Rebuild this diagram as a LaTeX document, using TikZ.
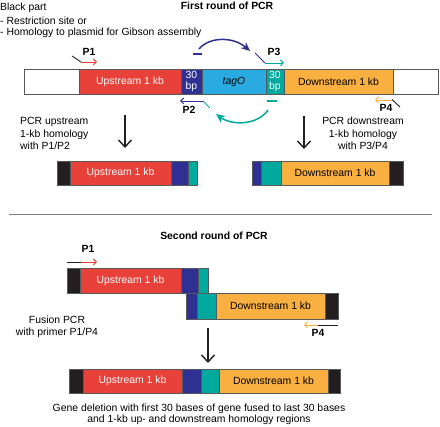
\documentclass[tikz,border=0pt]{standalone}
\usepackage{fontspec}
\setmainfont{Liberation Sans}
\usetikzlibrary{arrows.meta}
\definecolor{cred}{HTML}{E8413A}
\definecolor{cdblue}{HTML}{2E3192}
\definecolor{clblue}{HTML}{29ABE2}
\definecolor{cteal}{HTML}{00A99D}
\definecolor{corange}{HTML}{F9B040}
\definecolor{cblack}{HTML}{231F20}
\definecolor{cedge}{HTML}{58595B}
\begin{document}
\begin{tikzpicture}[x=1pt,y=-1pt,font=\fontsize{10.4}{12.5}\selectfont,
  seg/.style={draw=cedge,line width=0.8pt,rectangle,inner sep=0pt,outer sep=0pt,anchor=north west,minimum width=#1},
  h25/.style={minimum height=25pt},
  h24/.style={minimum height=24pt},
  h26/.style={minimum height=26pt},
  wtext/.style={text=white},
  lbl/.style={font=\fontsize{10.4}{12.5}\selectfont\bfseries,inner sep=0pt},
  txt/.style={inner sep=0pt,align=left},
  ctxt/.style={inner sep=0pt,align=center},
  primer/.style={line width=0.9pt,-{Straight Barb[length=3pt,width=6pt]}},
  tail/.style={line width=0.9pt,cblack},
  downarrow/.style={line width=1.4pt,cblack,-{Straight Barb[length=7pt,width=13pt]}},
  arcarrow/.style={line width=1.5pt,-{Stealth[length=9pt,width=8pt,inset=3pt]}},
  markline/.style={line width=1.5pt}]
\useasboundingbox (0,0) rectangle (440,427);

% header text
\node[txt,anchor=west] (hdr1) at (0,8) {Black part};
\node[txt,anchor=west] (hdr2) at (0,20.5) {- Restriction site or};
\node[txt,anchor=west] (hdr3) at (0,33) {- Homology to plasmid for Gibson assembly};
\node[lbl] (title1) at (227,6) {First round of PCR};

% top bar
\node[seg=55pt,h25,fill=white] (t0) at (24,69) {};
\node[seg=102pt,h25,fill=cred,wtext] (tup) at (79,69) {Upstream 1 kb};
\node[seg=21pt,h25,fill=cdblue,wtext,align=center,font=\fontsize{10.4}{11.5}\selectfont] (tbp1) at (181,69) {30\\bp};
\node[seg=64pt,h25,fill=clblue] (ttag) at (202,69) {\itshape tagO};
\node[seg=18pt,h25,fill=cteal,wtext,align=center,font=\fontsize{10.4}{11.5}\selectfont] (tbp2) at (266,69) {30\\bp};
\node[seg=109pt,h25,fill=corange] (tdn) at (284,69) {Downstream 1 kb};
\node[seg=45pt,h25,fill=white] (t1) at (393,69) {};

% primers, top
\node[lbl] (lp1) at (89,51.5) {P1};
\coordinate (p1a) at (72,56); \coordinate (p1b) at (81,62); \coordinate (p1c) at (97,62);
\draw[tail] (p1a) -- (p1b);
\draw[primer,cred] (p1b) -- (p1c);

\node[lbl] (lp3) at (274,51.5) {P3};
\coordinate (p3a) at (255,53); \coordinate (p3b) at (265,63); \coordinate (p3c) at (284,63);
\draw[line width=0.9pt,cdblue] (p3a) -- (p3b);
\draw[primer,cteal] (p3b) -- (p3c);

\node[lbl] (lp2) at (189,110) {P2};
\coordinate (p2a) at (210,108); \coordinate (p2b) at (203,101); \coordinate (p2c) at (180,101);
\draw[line width=0.9pt,cteal] (p2a) -- (p2b);
\draw[primer,cdblue] (p2b) -- (p2c);

\node[lbl] (lp4) at (386,108) {P4};
\coordinate (p4a) at (400,107); \coordinate (p4b) at (392,99.5); \coordinate (p4c) at (375,100);
\draw[tail] (p4a) -- (p4b);
\draw[primer,corange] (392,100) -- (p4c);

% marks and arcs
\coordinate (d1a) at (193,54); \coordinate (d1b) at (202,54);
\draw[markline,cdblue] (d1a) -- (d1b);
\coordinate (d2a) at (267,101); \coordinate (d2b) at (277,101);
\draw[markline,cteal] (d2a) -- (d2b);
\coordinate (a1s) at (199,49); \coordinate (a1e) at (250,51);
\draw[arcarrow,cdblue] (a1s) .. controls (210,36) and (234,37) .. (a1e);
\coordinate (a2s) at (268,110); \coordinate (a2e) at (216,114);
\draw[arcarrow,cteal] (a2s) .. controls (258,125) and (232,126) .. (a2e);

% down arrows
\coordinate (da1) at (125,115); \coordinate (db1) at (125,148);
\draw[downarrow] (da1) -- (db1);
\coordinate (da2) at (304,116); \coordinate (db2) at (304,149);
\draw[downarrow] (da2) -- (db2);

\node[txt,anchor=west] (ltxt) at (20,133.5) {PCR upstream\\1-kb homology\\with P1/P2};
\node[ctxt] (rtxt) at (363,133.5) {PCR downstream\\1-kb homology\\with P3/P4};

% products
\node[seg=13pt,h24,fill=cblack] (l0) at (57,161) {};
\node[seg=101pt,h24,fill=cred,wtext] (lup) at (70,161) {Upstream 1 kb};
\node[seg=17pt,h24,fill=cdblue] (l2) at (171,161) {};
\node[seg=9pt,h24,fill=cteal] (l3) at (188,161) {};

\node[seg=9pt,h24,fill=cdblue] (r0) at (252,161) {};
\node[seg=20pt,h24,fill=cteal] (r1) at (261,161) {};
\node[seg=108pt,h24,fill=corange] (rdn) at (281,161) {Downstream 1 kb};
\node[seg=14pt,h24,fill=cblack] (r3) at (389,161) {};

% separator
\coordinate (sepa) at (9,215); \coordinate (sepb) at (432,215);
\draw[line width=1pt,gray] (sepa) -- (sepb);

\node[lbl] (title2) at (214,236) {Second round of PCR};

% second round
\node[lbl] (lq1) at (88,249) {P1};
\coordinate (q1a) at (67,262); \coordinate (q1b) at (81,262); \coordinate (q1c) at (97,262);
\draw[tail] (q1a) -- (q1b);
\draw[primer,cred] (q1b) -- (q1c);

\node[seg=13pt,h25,fill=cblack] (u0) at (67,268) {};
\node[seg=101pt,h25,fill=cred,wtext] (uup) at (80,268) {Upstream 1 kb};
\node[seg=17pt,h25,fill=cdblue] (u2) at (181,268) {};
\node[seg=10pt,h25,fill=cteal] (u3) at (198,268) {};

\node[seg=11pt,h26,fill=cdblue] (v0) at (186,293) {};
\node[seg=19pt,h26,fill=cteal] (v1) at (197,293) {};
\node[seg=109pt,h26,fill=corange] (vdn) at (216,293) {Downstream 1 kb};
\node[seg=13pt,h26,fill=cblack] (v3) at (325,293) {};

\node[lbl] (lq4) at (318,333) {P4};
\coordinate (q4a) at (338,325); \coordinate (q4b) at (318,325); \coordinate (q4c) at (304,325);
\draw[tail] (q4a) -- (q4b);
\draw[primer,corange] (q4b) -- (q4c);

\node[ctxt] (ftxt) at (57,327) {Fusion PCR\\with primer P1/P4};

\coordinate (da3) at (208,328); \coordinate (db3) at (208,363);
\draw[downarrow] (da3) -- (db3);

% final
\node[seg=14pt,h24,fill=cblack] (f0) at (69,369) {};
\node[seg=99pt,h24,fill=cred,wtext] (fup) at (83,369) {Upstream 1 kb};
\node[seg=19pt,h24,fill=cdblue] (f2) at (182,369) {};
\node[seg=18pt,h24,fill=cteal] (f3) at (201,369) {};
\node[seg=109pt,h24,fill=corange] (fdn) at (219,369) {Downstream 1 kb};
\node[seg=12pt,h24,fill=cblack] (f5) at (328,369) {};

\node[ctxt,font=\fontsize{10.4}{11.5}\selectfont] (btxt) at (199,414.5) {Gene deletion with first 30 bases of gene fused to last 30 bases\\and 1-kb up- and downstream homology regions};
\end{tikzpicture}
\end{document}
